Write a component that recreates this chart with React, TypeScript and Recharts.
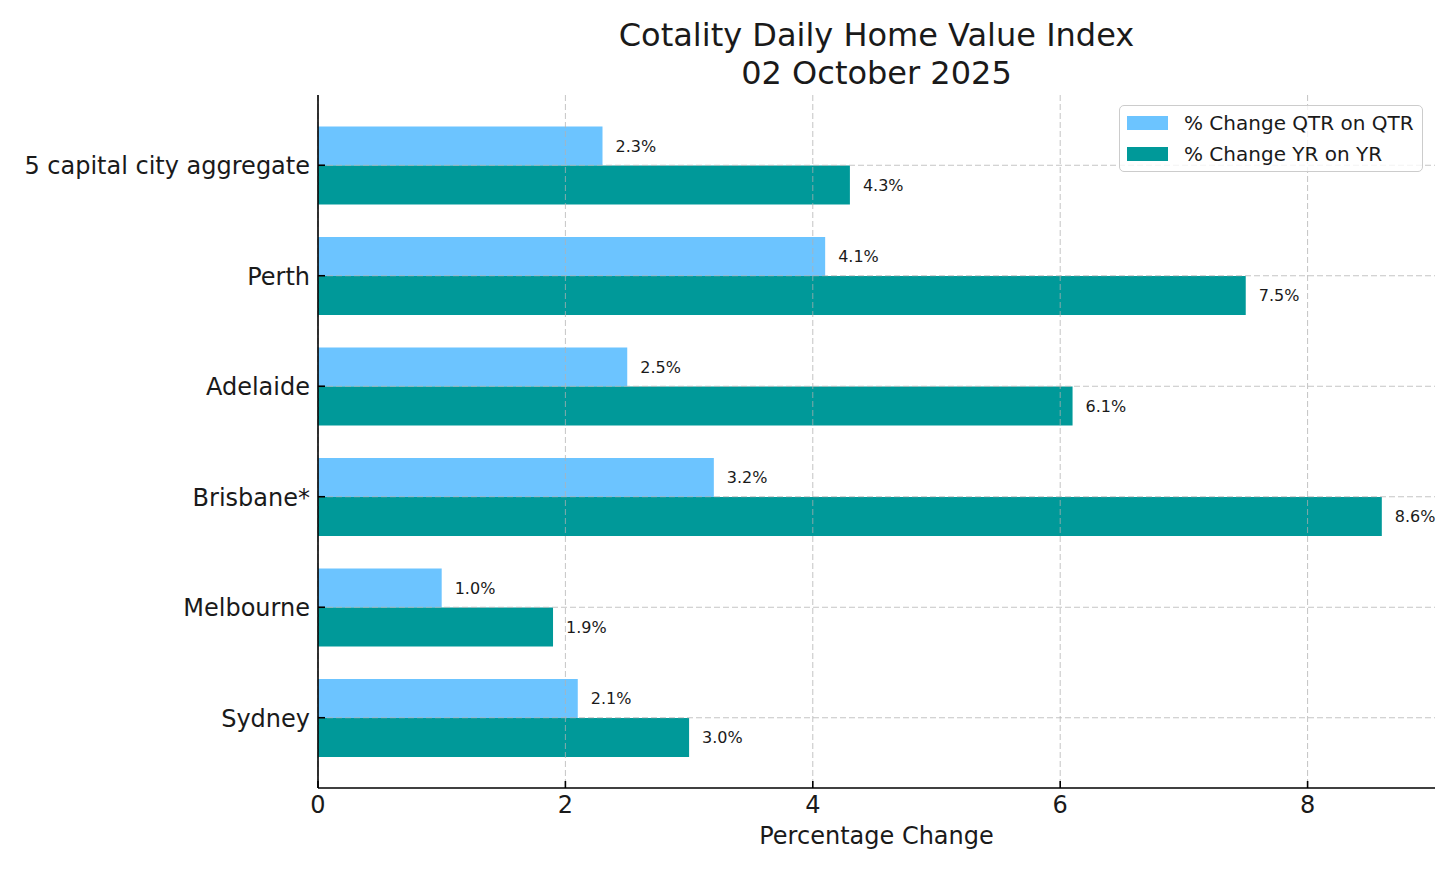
import React from 'react';
import { BarChart, Bar, XAxis, YAxis, CartesianGrid, LabelList } from 'recharts';

// categories listed top to bottom, as they appear in the chart
const cities = ['5 capital city aggregate', 'Perth', 'Adelaide', 'Brisbane*', 'Melbourne', 'Sydney'];
const qtrChange = [2.3, 4.1, 2.5, 3.2, 1.0, 2.1];
const yrChange = [4.3, 7.5, 6.1, 8.6, 1.9, 3.0];
const xTicks = [0, 2, 4, 6, 8];

const seriesNames = ['% Change QTR on QTR', '% Change YR on YR'];
const seriesColors = ['#6cc4ff', '#009999'];

const data = cities.map((city, i) => ({ city, qtr: qtrChange[i], yr: yrChange[i] }));

const FONT = '"DejaVu Sans", Verdana, sans-serif';
const TEXT = '#1a1a1a';

const XTick = ({ x, y, payload }: any) => (
    <g>
        <line x1={x} x2={x} y1={y} y2={y - 7} stroke="#000" strokeWidth={1.6} />
        <text x={x} y={y + 25} textAnchor="middle" fontSize={24} fontFamily={FONT} fill={TEXT}>
            {payload.value}
        </text>
    </g>
);

const YTick = ({ x, y, payload }: any) => (
    <g>
        <line x1={x} x2={x + 7} y1={y} y2={y} stroke="#000" strokeWidth={1.6} />
        <text x={x - 8} y={y} dy="0.37em" textAnchor="end" fontSize={24} fontFamily={FONT} fill={TEXT}>
            {payload.value}
        </text>
    </g>
);

const fmt = (v: any) => `${Number(v).toFixed(1)}%`;

export default function App() {
    return (
        <div style={{ position: 'absolute', left: 0, top: 0, width: 1456, height: 874, background: '#fff', fontFamily: FONT }}>
            <BarChart
                width={1456}
                height={874}
                data={data}
                layout="vertical"
                margin={{ top: 95, right: 21, bottom: 85, left: 317 }}
                barCategoryGap="15%"
                barGap={0}
            >
                <CartesianGrid
                    stroke="#b0b0b0"
                    strokeOpacity={0.75}
                    strokeDasharray="6 3"
                    syncWithTicks
                    zIndex={500}
                />
                <XAxis
                    type="number"
                    domain={[0, 9.03]}
                    ticks={xTicks}
                    allowDataOverflow
                    height={1}
                    tickSize={0}
                    tickMargin={0}
                    tickLine={false}
                    tick={<XTick />}
                    axisLine={{ stroke: '#000', strokeWidth: 1.6 }}
                />
                <YAxis
                    type="category"
                    dataKey="city"
                    width={1}
                    padding={{ top: 15, bottom: 15 }}
                    tickSize={0}
                    tickMargin={0}
                    tickLine={false}
                    tick={<YTick />}
                    interval={0}
                    axisLine={{ stroke: '#000', strokeWidth: 1.6 }}
                />
                <Bar dataKey="qtr" name={seriesNames[0]} fill={seriesColors[0]} isAnimationActive={false}>
                    <LabelList dataKey="qtr" position="right" offset={13} formatter={fmt} fontSize={16} fontFamily={FONT} fill={TEXT} />
                </Bar>
                <Bar dataKey="yr" name={seriesNames[1]} fill={seriesColors[1]} isAnimationActive={false}>
                    <LabelList dataKey="yr" position="right" offset={13} formatter={fmt} fontSize={16} fontFamily={FONT} fill={TEXT} />
                </Bar>
            </BarChart>

            <div style={{ position: 'absolute', left: 318, width: 1117, top: 16, textAlign: 'center', fontSize: 32, lineHeight: '38px', color: TEXT }}>
                <div>Cotality Daily Home Value Index</div>
                <div>02 October 2025</div>
            </div>

            <div style={{ position: 'absolute', left: 318, width: 1117, top: 822, textAlign: 'center', fontSize: 24, lineHeight: '28px', color: TEXT }}>
                Percentage Change
            </div>

            <div style={{
                position: 'absolute', left: 1119, top: 105, width: 302, height: 65,
                border: '1px solid #cccccc', borderRadius: 5, background: 'rgba(255,255,255,0.8)',
                boxSizing: 'content-box',
            }}>
                {seriesNames.map((name, i) => (
                    <div key={name} style={{ position: 'absolute', left: 7, top: 6 + i * 31, height: 22, display: 'flex', alignItems: 'center' }}>
                        <div style={{ width: 41, height: 14, background: seriesColors[i] }} />
                        <span style={{ marginLeft: 16, fontSize: 20, color: TEXT, whiteSpace: 'nowrap' }}>{name}</span>
                    </div>
                ))}
            </div>
        </div>
    );
}
